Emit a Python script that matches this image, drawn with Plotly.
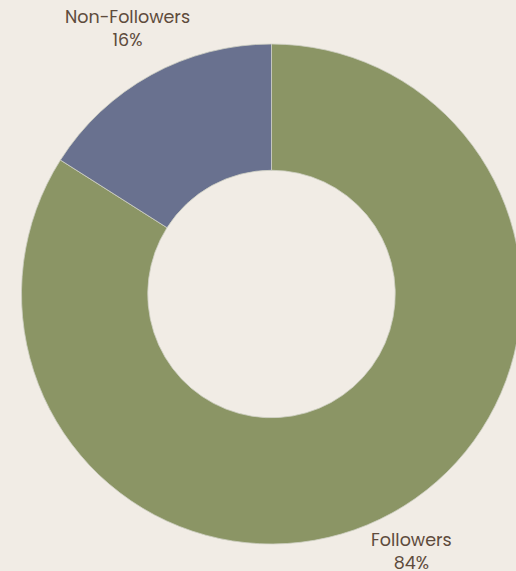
import plotly.graph_objects as go

# Audience split
labels = ["Followers", "Non-Followers"]
values = [84, 16]
colors = ["#8b9565", "#69718f"]

BG = "#f1ece5"
TEXT = "#5e4b3c"

W, H = 522, 571
M = dict(l=21, r=0, t=44, b=27)
area_w = W - M["l"] - M["r"]
area_h = H - M["t"] - M["b"]

fig = go.Figure(
    go.Pie(
        labels=labels,
        values=values,
        hole=0.495,
        sort=False,
        direction="clockwise",
        rotation=0,
        marker=dict(colors=colors, line=dict(color="#cfd0c4", width=0.8)),
        textinfo="none",
        hoverinfo="label+percent",
        showlegend=False,
    )
)

# Outside labels: name and share, placed beside each slice
total = sum(values)
label_pos = {"Followers": (411, 551), "Non-Followers": (127, 29)}
for name, v in zip(labels, values):
    px, py = label_pos[name]
    fig.add_annotation(
        x=(px - M["l"]) / area_w,
        y=(H - M["b"] - py) / area_h,
        xref="paper",
        yref="paper",
        text=f"{name}<br>{round(100 * v / total)}%",
        showarrow=False,
        xanchor="center",
        yanchor="middle",
        align="center",
        font=dict(family="Poppins, Inter, sans-serif", size=17.5, color=TEXT),
    )

fig.update_layout(
    width=W,
    height=H,
    margin=M,
    paper_bgcolor=BG,
    plot_bgcolor=BG,
)

fig.write_html(
    "out.html",
    post_script="document.documentElement.style.overflow='hidden';"
    "document.body.style.overflow='hidden';document.body.style.margin='0';",
)
